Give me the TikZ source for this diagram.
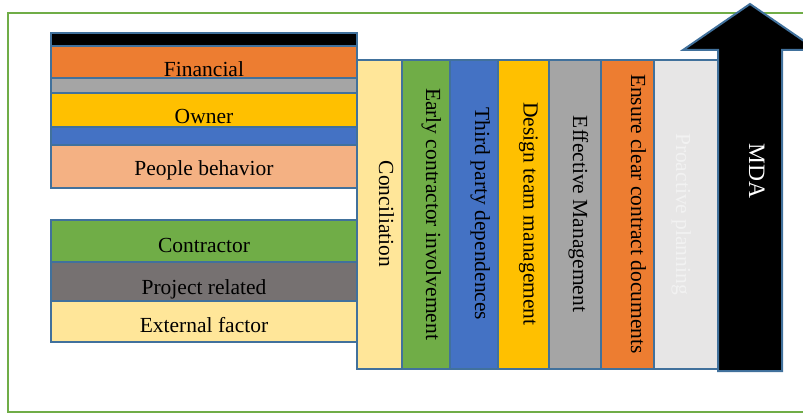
\documentclass[tikz,border=0pt]{standalone}
\usepackage{fontspec}
\setmainfont{Liberation Serif}
\newcommand{\fsz}{\fontsize{21.5}{24}\selectfont}
\newcommand{\fszbig}{\fontsize{23.5}{26}\selectfont}
\definecolor{edge}{RGB}{65,113,156}
\definecolor{frame}{RGB}{112,173,71}
\definecolor{cOrange}{RGB}{237,125,49}
\definecolor{cGray}{RGB}{165,165,165}
\definecolor{cGold}{RGB}{255,192,0}
\definecolor{cBlue}{RGB}{68,114,196}
\definecolor{cPeach}{RGB}{244,177,131}
\definecolor{cGreen}{RGB}{112,173,71}
\definecolor{cDark}{RGB}{118,113,113}
\definecolor{cLightY}{RGB}{255,230,153}
\definecolor{cLightG}{RGB}{231,230,230}
\definecolor{cPale}{RGB}{242,242,242}
\begin{document}
\begin{tikzpicture}[x=1pt,y=-1pt,
  cell/.style={draw=edge, line width=2pt, inner sep=0pt, outer sep=0pt, anchor=north west},
  lbl/.style={font=\fsz, anchor=base, inner sep=0pt},
  vlbl/.style={lbl, rotate=-90}]
\useasboundingbox (0,0) rectangle (803,414);
\clip (0,0) rectangle (803,414);
% outer frame
\draw[frame, line width=2.5pt] (8,13) rectangle (840,412);
% upper stacked box
\node[cell, fill=black,  minimum width=306pt, minimum height=13pt] (rblack) at (51,33) {};
\node[cell, fill=cOrange,minimum width=306pt, minimum height=32pt] (rfin) at (51,46) {};
\node[cell, fill=cGray,  minimum width=306pt, minimum height=15pt] (rgray) at (51,78) {};
\node[cell, fill=cGold,  minimum width=306pt, minimum height=34pt] (rown) at (51,93) {};
\node[cell, fill=cBlue,  minimum width=306pt, minimum height=18pt] (rblue) at (51,127) {};
\node[cell, fill=cPeach, minimum width=306pt, minimum height=43pt] (rpeo) at (51,145) {};
\node[lbl] (tfin) at (204,77) {Financial};
\node[lbl] (town) at (204,124) {Owner};
\node[lbl] (tpeo) at (204,176) {People behavior};
% lower stacked box
\node[cell, fill=cGreen, minimum width=306pt, minimum height=42pt] (rcon) at (51,220) {};
\node[cell, fill=cDark,  minimum width=306pt, minimum height=39pt] (rproj) at (51,262) {};
\node[cell, fill=cLightY,minimum width=306pt, minimum height=41pt] (rext) at (51,301) {};
\node[lbl] (tcon) at (204,252) {Contractor};
\node[lbl] (tproj) at (204,294) {Project related};
\node[lbl] (text) at (204,332) {External factor};
% columns
\node[cell, fill=cLightY, minimum width=45pt, minimum height=309pt] (c1) at (357,60) {};
\node[cell, fill=cGreen,  minimum width=48pt, minimum height=309pt] (c2) at (402,60) {};
\node[cell, fill=cBlue,   minimum width=48pt, minimum height=309pt] (c3) at (450,60) {};
\node[cell, fill=cGold,   minimum width=51pt, minimum height=309pt] (c4) at (498,60) {};
\node[cell, fill=cGray,   minimum width=52pt, minimum height=309pt] (c5) at (549,60) {};
\node[cell, fill=cOrange, minimum width=53pt, minimum height=309pt] (c6) at (601,60) {};
\node[cell, fill=cLightG, minimum width=64pt, minimum height=309pt] (c7) at (654,60) {};
\node[vlbl] (t1) at (379,214) {Conciliation};
\node[vlbl] (t2) at (426,214) {Early contractor involvement};
\node[vlbl] (t3) at (475,214) {Third party dependences};
\node[vlbl] (t4) at (523.5,214) {Design team management};
\node[vlbl] (t5) at (573,214) {Effective Management};
\node[vlbl] (t6) at (631,214) {Ensure clear contract documents};
\node[vlbl, text=cPale] (t7) at (676,214) {Proactive planning};
% MDA arrow
\draw[edge, line width=2pt, fill=black, line join=miter]
  (718,371) -- (718,50) -- (683,50) -- (750,4) -- (817,50) -- (782,50) -- (782,371) -- cycle;
\node[vlbl, text=white, font=\fszbig] (tmda) at (749,171) {MDA};
\end{tikzpicture}
\end{document}
